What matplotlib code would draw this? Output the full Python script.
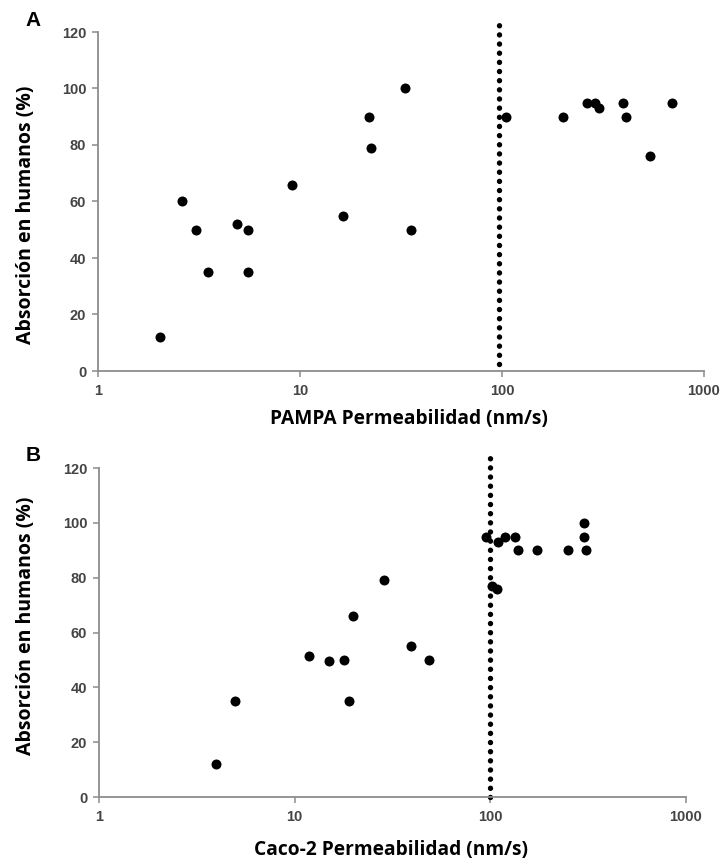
import matplotlib
matplotlib.use("Agg")
import matplotlib.pyplot as plt

# ---- Data ----
pampa_perm = [2.03, 2.6, 3.05, 3.5, 4.9, 5.5, 5.5, 9.1, 16.3, 21.9, 22.4, 33.0, 35.6,
              105, 201, 265, 288, 302, 399, 410, 538, 697]
pampa_abs = [12, 60, 50, 35, 52, 50, 35, 66, 55, 90, 79, 100, 50,
             90, 90, 95, 95, 93, 95, 90, 76, 95]

caco_perm = [3.97, 4.96, 11.9, 14.9, 17.9, 18.9, 19.8, 28.7, 39.5, 48.6,
             95, 110, 119, 133, 139, 174, 249, 300, 300, 310, 102, 108]
caco_abs = [12, 35, 51.5, 49.6, 50, 35, 66, 79, 55, 50,
            95, 93, 95, 95, 90, 90, 90, 100, 95, 90, 77, 76]

threshold_a = 97
threshold_a_range = [2.5, 122.5]
threshold_b = 100
threshold_b_range = [0, 126]

y_ticks = [0, 20, 40, 60, 80, 100, 120]
x_ticks = [1, 10, 100, 1000]
x_ticklabels = ["1", "10", "100", "1000"]

ylabel = "Absorción en humanos (%)"
xlabel_a = "PAMPA Permeabilidad (nm/s)"
xlabel_b = "Caco-2 Permeabilidad (nm/s)"

W, H = 724, 863
fig = plt.figure(figsize=(W / 100, H / 100), dpi=100)


def px_axes(l, r, t, b):
    return fig.add_axes([l / W, 1 - b / H, (r - l) / W, (b - t) / H])


axA = px_axes(98, 704, 32, 371)
axB = px_axes(99, 686, 468, 797)

spine_col = "#8c8c8c"
tick_col = "#444444"


def style(ax):
    ax.set_xscale("log")
    ax.set_xlim(1, 1000)
    ax.set_ylim(0, 120)
    for s in ["top", "right"]:
        ax.spines[s].set_visible(False)
    for s in ["left", "bottom"]:
        ax.spines[s].set_color(spine_col)
        ax.spines[s].set_linewidth(1.3)
    ax.set_yticks(y_ticks)
    ax.set_yticklabels([str(v) for v in y_ticks])
    ax.set_xticks(x_ticks)
    ax.set_xticklabels(x_ticklabels)
    ax.xaxis.set_minor_locator(matplotlib.ticker.NullLocator())
    ax.tick_params(axis="both", direction="out", length=4.5, width=1.1,
                   color=spine_col, labelcolor=tick_col, labelsize=10.5, pad=4)
    ax.tick_params(axis="x", pad=5)
    for lab in ax.get_xticklabels() + ax.get_yticklabels():
        lab.set_fontfamily("Liberation Sans")
        lab.set_fontweight("bold")


def dotted_line(ax, x, yr):
    ax.plot([x, x], yr, color="black", linewidth=3.9,
            linestyle=(0, (0.01, 1.68)), dash_capstyle="round",
            clip_on=False, zorder=2)


style(axA)
style(axB)

dotted_line(axA, threshold_a, threshold_a_range)
dotted_line(axB, threshold_b, threshold_b_range)

axA.plot(pampa_perm, pampa_abs, "o", color="black", markersize=7.2,
         markeredgewidth=0, zorder=3, clip_on=False)
axB.plot(caco_perm, caco_abs, "o", color="black", markersize=7.2,
         markeredgewidth=0, zorder=3, clip_on=False)

lab_kw = dict(fontsize=14, fontweight="bold", family="Open Sans", color="black")
axA.set_ylabel(ylabel, **lab_kw)
axB.set_ylabel(ylabel, **lab_kw)
axA.yaxis.set_label_coords(-0.102, 0.46)
axB.yaxis.set_label_coords(-0.107, 0.52)

xl_kw = dict(fontsize=13.8, fontweight="bold", family="Open Sans", color="black")
axA.set_xlabel(xlabel_a, **xl_kw)
axB.set_xlabel(xlabel_b, **xl_kw)
axA.xaxis.set_label_coords(0.513, -0.112)
axB.xaxis.set_label_coords(0.497, -0.13)

fig.text(33 / W, 1 - 20 / H, "A", fontsize=15, fontweight="bold",
         family="Liberation Sans", ha="center", va="center")
fig.text(33 / W, 1 - 455 / H, "B", fontsize=15, fontweight="bold",
         family="Liberation Sans", ha="center", va="center")

fig.savefig("out.png", dpi=100, facecolor="white")
